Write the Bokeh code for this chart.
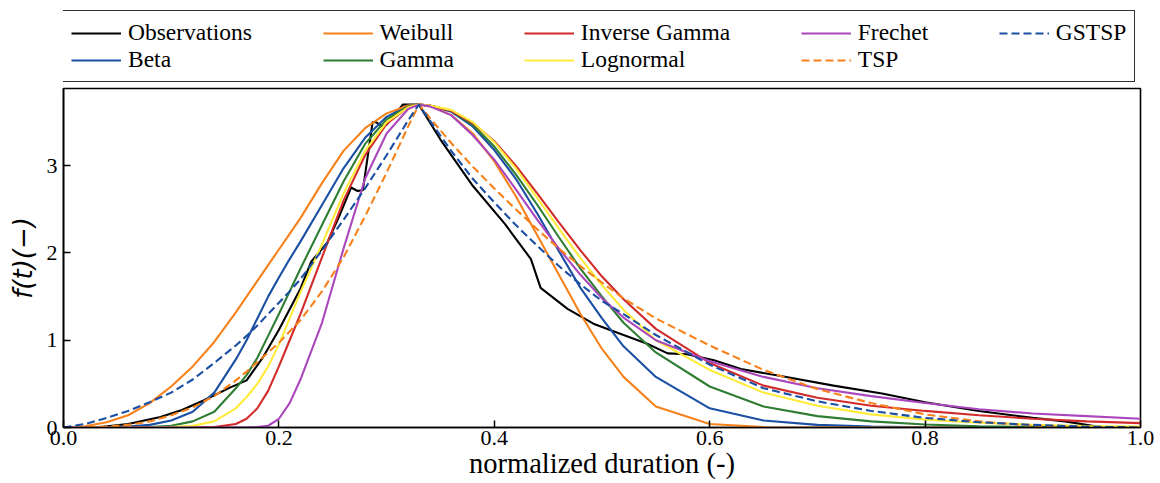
from bokeh.plotting import figure
from bokeh.layouts import column
from bokeh.models import Legend, LegendItem, FixedTicker, Range1d, ColumnDataSource
from bokeh.embed import file_html
from bokeh.resources import INLINE

# ---------------- data ----------------
grid_x = [0.00, 0.02, 0.04, 0.06, 0.08, 0.10, 0.12, 0.14, 0.16, 0.17, 0.18, 0.19, 0.20,
          0.21, 0.22, 0.24, 0.26, 0.28, 0.30, 0.32, 0.33, 0.34, 0.36, 0.38, 0.40, 0.42,
          0.44, 0.46, 0.48, 0.50, 0.52, 0.55, 0.60, 0.65, 0.70, 0.75, 0.80, 0.85, 0.90,
          0.95, 1.00]

beta_y = [0, 0, 0.002, 0.01, 0.03, 0.08, 0.18, 0.40, 0.78, 1.00, 1.25, 1.50, 1.72,
          1.93, 2.13, 2.55, 2.97, 3.32, 3.56, 3.69, 3.70, 3.69, 3.62, 3.45, 3.18, 2.85,
          2.45, 2.02, 1.60, 1.25, 0.93, 0.58, 0.22, 0.08, 0.03, 0.01, 0.003, 0, 0, 0, 0]

weibull_y = [0, 0.015, 0.06, 0.14, 0.28, 0.47, 0.70, 0.98, 1.32, 1.50, 1.68, 1.86, 2.04,
             2.22, 2.40, 2.80, 3.17, 3.43, 3.60, 3.69, 3.70, 3.69, 3.58, 3.37, 3.05, 2.65,
             2.20, 1.75, 1.30, 0.90, 0.58, 0.24, 0.04, 0.005, 0, 0, 0, 0, 0, 0, 0]

gamma_y = [0, 0, 0, 0.002, 0.006, 0.02, 0.07, 0.18, 0.45, 0.60, 0.80, 1.05, 1.30,
           1.56, 1.82, 2.32, 2.82, 3.25, 3.53, 3.68, 3.70, 3.69, 3.63, 3.47, 3.22, 2.90,
           2.55, 2.18, 1.82, 1.50, 1.20, 0.86, 0.47, 0.24, 0.13, 0.07, 0.035, 0.015,
           0.007, 0.003, 0]

invgamma_y = [0, 0, 0, 0, 0, 0, 0, 0.005, 0.04, 0.10, 0.22, 0.42, 0.70,
              1.00, 1.30, 1.95, 2.60, 3.12, 3.48, 3.67, 3.70, 3.69, 3.63, 3.49, 3.28, 3.00,
              2.68, 2.35, 2.03, 1.73, 1.47, 1.13, 0.74, 0.48, 0.34, 0.25, 0.19, 0.14,
              0.10, 0.07, 0.05]

lognormal_y = [0, 0, 0, 0, 0, 0.005, 0.02, 0.07, 0.22, 0.35, 0.50, 0.70, 0.95,
               1.25, 1.55, 2.10, 2.68, 3.17, 3.50, 3.67, 3.70, 3.69, 3.64, 3.50, 3.27, 2.97,
               2.63, 2.28, 1.94, 1.63, 1.35, 1.00, 0.66, 0.40, 0.25, 0.15, 0.09, 0.055,
               0.032, 0.018, 0.01]

frechet_y = [0, 0, 0, 0, 0, 0, 0, 0, 0, 0, 0.005, 0.02, 0.10,
             0.28, 0.55, 1.20, 2.05, 2.85, 3.37, 3.65, 3.70, 3.68, 3.58, 3.35, 3.07, 2.73,
             2.38, 2.05, 1.75, 1.48, 1.26, 1.00, 0.76, 0.58, 0.45, 0.36, 0.28, 0.21,
             0.16, 0.13, 0.10]

tsp_y = [0, 0.001, 0.01, 0.03, 0.07, 0.14, 0.23, 0.36, 0.54, 0.64, 0.75, 0.86, 0.97,
         1.10, 1.23, 1.56, 1.95, 2.42, 2.92, 3.45, 3.70, 3.55, 3.26, 2.99, 2.74, 2.50,
         2.27, 2.05, 1.85, 1.66, 1.48, 1.25, 0.94, 0.66, 0.44, 0.28, 0.15, 0.07,
         0.02, 0.004, 0]

gstsp_y = [0, 0.04, 0.11, 0.19, 0.29, 0.40, 0.55, 0.74, 0.94, 1.05, 1.17, 1.30, 1.43,
           1.56, 1.70, 2.03, 2.38, 2.74, 3.12, 3.52, 3.70, 3.52, 3.17, 2.85, 2.58, 2.32,
           2.08, 1.85, 1.64, 1.45, 1.30, 1.06, 0.72, 0.45, 0.30, 0.19, 0.11, 0.06,
           0.03, 0.01, 0]

obs_x = [0.0, 0.03, 0.06, 0.09, 0.11, 0.13, 0.155, 0.17, 0.185, 0.20, 0.22, 0.23, 0.245,
         0.257, 0.267, 0.273, 0.278, 0.287, 0.29, 0.296, 0.30, 0.315, 0.33, 0.35, 0.38,
         0.41, 0.434, 0.443, 0.468, 0.492, 0.52, 0.542, 0.561, 0.579, 0.604, 0.629,
         0.666, 0.715, 0.76, 0.80, 0.85, 0.90, 0.93, 0.965, 1.0]
obs_y = [0.0, 0.0, 0.04, 0.12, 0.20, 0.31, 0.46, 0.54, 0.80, 1.12, 1.59, 1.90, 2.12,
         2.45, 2.75, 2.71, 2.72, 3.50, 3.50, 3.45, 3.47, 3.70, 3.70, 3.30, 2.77,
         2.33, 1.93, 1.60, 1.36, 1.19, 1.06, 0.96, 0.85, 0.84, 0.77, 0.67,
         0.59, 0.48, 0.39, 0.29, 0.19, 0.11, 0.07, 0.0, 0.0]

x_ticks = [0.0, 0.2, 0.4, 0.6, 0.8, 1.0]
x_tick_labels = ["0.0", "0.2", "0.4", "0.6", "0.8", "1.0"]
y_ticks = [0, 1, 2, 3]
y_tick_labels = ["0", "1", "2", "3"]

# series: (name, y values, color, dash) -- drawing order
series = [
    ("Observations", None, "black", "solid"),
    ("Beta", beta_y, "#1a4fa3", "solid"),
    ("Weibull", weibull_y, "#f7821b", "solid"),
    ("Gamma", gamma_y, "#2e7d32", "solid"),
    ("Inverse Gamma", invgamma_y, "#d22b2b", "solid"),
    ("Lognormal", lognormal_y, "#ffeb3b", "solid"),
    ("Frechet", frechet_y, "#ab47bc", "solid"),
    ("TSP", tsp_y, "#f7821b", "8 4"),
    ("GSTSP", gstsp_y, "#1a4fa3", "8 4"),
]
# legend rows (5 columns x 2 rows)
legend_rows = [["Observations", "Weibull", "Inverse Gamma", "Frechet", "GSTSP"],
               ["Beta", "Gamma", "Lognormal", "TSP"]]
# first-row items of the first four columns carry trailing blanks so that
# the columns are spaced apart like in the reference
col_gap = " " * 12
padded = {"Observations", "Weibull", "Inverse Gamma", "Frechet"}

SERIF = "Liberation Serif"

# ---------------- main figure ----------------
p = figure(width=1160, height=396, output_backend="svg", toolbar_location=None,
           x_range=Range1d(0, 1), y_range=Range1d(0, 3.885),
           min_border_left=63, min_border_right=20, min_border_top=1,
           min_border_bottom=56, background_fill_color="white",
           border_fill_color="white")
p.grid.visible = False
p.outline_line_color = "black"
p.outline_line_width = 1.6

# legend strip above the main figure (its lines share the same sources but
# its ranges lie outside the data, so only the legend is visible there)
lf = figure(width=1160, height=87, output_backend="svg", toolbar_location=None,
            x_range=Range1d(2, 3), y_range=Range1d(2, 3),
            x_axis_location=None, y_axis_location=None,
            min_border_left=0, min_border_right=0, min_border_top=0,
            min_border_bottom=0, background_fill_color="white",
            border_fill_color="white", outline_line_color=None)
lf.grid.visible = False

rends = {}
for name, ys, color, dash in series:
    if ys is None:
        src = ColumnDataSource(dict(x=obs_x, y=obs_y))
    else:
        src = ColumnDataSource(dict(x=grid_x, y=ys))
    p.line("x", "y", source=src, line_color=color, line_width=2.1, line_dash=dash)
    rends[name] = lf.line("x", "y", source=src, line_color=color, line_width=2.1,
                          line_dash=dash)

items = []
for row in legend_rows:
    for name in row:
        label = name + col_gap if name in padded else name
        items.append(LegendItem(label=label, renderers=[rends[name]]))

legend = Legend(items=items, orientation="horizontal", ncols=5,
                location=(-1, 5), margin=0, padding=8, spacing=0,
                border_line_color="#333333", border_line_width=1.6,
                border_line_alpha=1.0,
                background_fill_color="white", background_fill_alpha=1.0,
                glyph_width=50, glyph_height=24, label_standoff=7, label_height=24,
                label_text_font=SERIF, label_text_font_size="23.5px",
                label_text_color="black", label_text_baseline="middle")
lf.add_layout(legend)

# ---------------- axes ----------------
p.xaxis.ticker = FixedTicker(ticks=x_ticks)
p.yaxis.ticker = FixedTicker(ticks=y_ticks)
p.xaxis.major_label_overrides = {t: l for t, l in zip(x_ticks, x_tick_labels)}
p.yaxis.major_label_overrides = {t: l for t, l in zip(y_ticks, y_tick_labels)}
for ax in (p.xaxis[0], p.yaxis[0]):
    ax.minor_tick_line_color = None
    ax.major_tick_in = 7
    ax.major_tick_out = 0
    ax.major_tick_line_width = 1.5
    ax.major_tick_line_color = "black"
    ax.axis_line_color = "black"
    ax.axis_line_width = 1.6
    ax.major_label_text_font = SERIF
    ax.major_label_text_font_size = "22px"
    ax.major_label_text_color = "black"

p.xaxis[0].major_label_standoff = 3
p.yaxis[0].major_label_standoff = 6

xa = p.xaxis[0]
xa.axis_label = "normalized duration (-)"
xa.axis_label_text_font = SERIF
xa.axis_label_text_font_size = "28.5px"
xa.axis_label_text_font_style = "normal"
xa.axis_label_text_color = "black"
xa.axis_label_standoff = 0

ya = p.yaxis[0]
ya.axis_label = "f(t)(−)"
ya.axis_label_text_font = "DejaVu Sans"
ya.axis_label_text_font_size = "26px"
ya.axis_label_text_font_style = "italic"
ya.axis_label_text_color = "black"
ya.axis_label_standoff = 6

layout = column(lf, p, spacing=0)
open("out.html", "w").write(file_html(layout, INLINE))
